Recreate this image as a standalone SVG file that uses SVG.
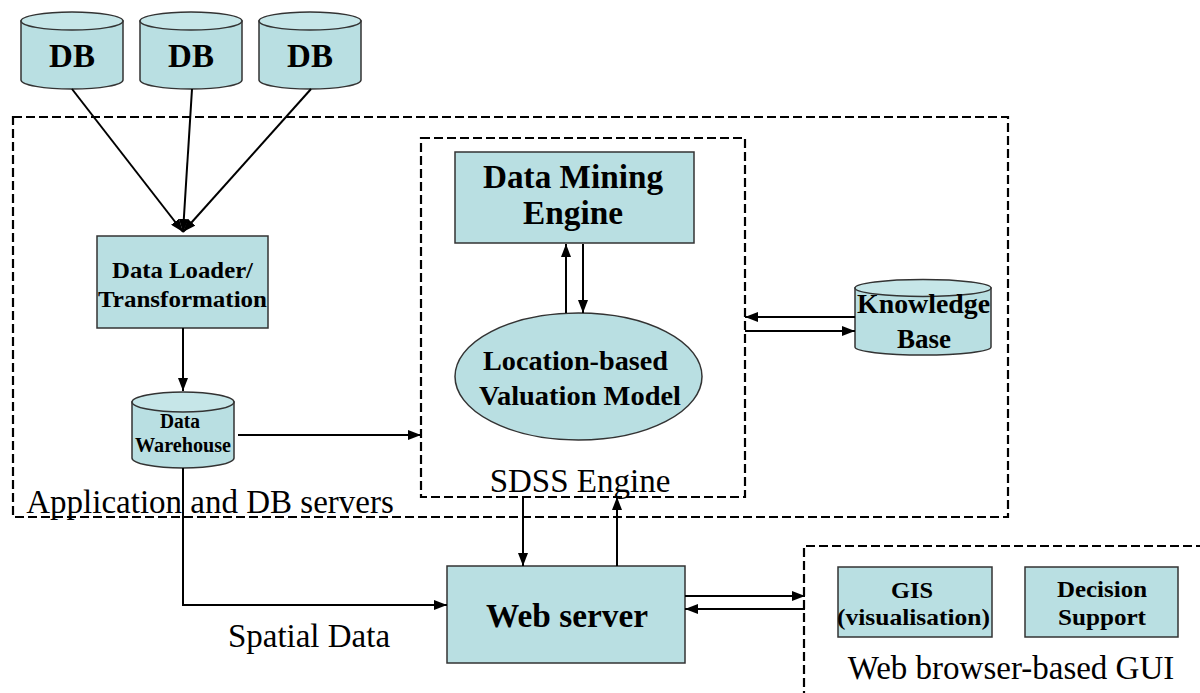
<svg xmlns="http://www.w3.org/2000/svg" width="1200" height="693" viewBox="0 0 1200 693">
<style>
.fill{fill:#b9dfe2;stroke:#333;stroke-width:1.5}
.top{fill:#c6e6e8;stroke:#333;stroke-width:1.5}
.dash{fill:none;stroke:#000;stroke-width:2.2;stroke-dasharray:9 4}
.ln{fill:none;stroke:#000;stroke-width:2}
.b{font-family:"Liberation Serif","Times New Roman",serif;font-weight:bold;fill:#000;text-anchor:middle}
.r{font-family:"Liberation Serif","Times New Roman",serif;fill:#000;text-anchor:middle;font-size:33px}
</style>
<defs>
<marker id="ah" markerUnits="userSpaceOnUse" markerWidth="13" markerHeight="10" refX="13" refY="5" orient="auto">
<path d="M0,0 L13,5 L0,10 z" fill="#000"/>
</marker>
</defs>
<rect width="1200" height="693" fill="#fff"/>

<g id="containers">
<rect class="dash" x="13" y="117" width="995" height="400"/>
<rect class="dash" x="421" y="138" width="324" height="359"/>
<path class="dash" d="M804,700 L804,546 L1205,546"/>
<text class="r" x="210" y="513">Application and DB servers</text>
<text class="r" x="580" y="492">SDSS Engine</text>
<text class="r" x="1011" y="679">Web browser-based GUI</text>
</g>

<g id="db1">
<path class="fill" d="M21,21 L21,80 A51,9 0 0 0 123,80 L123,21 z"/>
<ellipse class="top" cx="72" cy="21" rx="51" ry="9"/>
<text class="b" x="72" y="67" font-size="33">DB</text>
</g>
<g id="db2">
<path class="fill" d="M140,21 L140,80 A51,9 0 0 0 242,80 L242,21 z"/>
<ellipse class="top" cx="191" cy="21" rx="51" ry="9"/>
<text class="b" x="191" y="67" font-size="33">DB</text>
</g>
<g id="db3">
<path class="fill" d="M259,21 L259,80 A51,9 0 0 0 361,80 L361,21 z"/>
<ellipse class="top" cx="310" cy="21" rx="51" ry="9"/>
<text class="b" x="310" y="67" font-size="33">DB</text>
</g>

<g id="loader">
<rect class="fill" x="97" y="236" width="171" height="92"/>
<text class="b" x="182.5" y="278" font-size="24" textLength="141" lengthAdjust="spacingAndGlyphs">Data Loader/</text>
<text class="b" x="182.5" y="307" font-size="24" textLength="169" lengthAdjust="spacingAndGlyphs">Transformation</text>
</g>

<g id="warehouse">
<path class="fill" d="M132,402 L132,458 A51,10 0 0 0 234,458 L234,402 z"/>
<ellipse class="top" cx="183" cy="402" rx="51" ry="10"/>
<text class="b" x="180" y="428" font-size="20" textLength="40" lengthAdjust="spacingAndGlyphs">Data</text>
<text class="b" x="183" y="452" font-size="20" textLength="96" lengthAdjust="spacingAndGlyphs">Warehouse</text>
</g>

<g id="dme">
<rect class="fill" x="455" y="152" width="239" height="91"/>
<text class="b" x="573" y="188" font-size="33" textLength="180" lengthAdjust="spacingAndGlyphs">Data Mining</text>
<text class="b" x="573" y="224" font-size="33" textLength="100" lengthAdjust="spacingAndGlyphs">Engine</text>
</g>

<g id="model">
<ellipse class="fill" cx="578.5" cy="376.5" rx="123.5" ry="63.5"/>
<text class="b" x="575.5" y="370" font-size="28" textLength="185" lengthAdjust="spacingAndGlyphs">Location-based</text>
<text class="b" x="580" y="405" font-size="28" textLength="202" lengthAdjust="spacingAndGlyphs">Valuation Model</text>
</g>

<g id="kb">
<path class="fill" d="M855,288 L855,347 A68,8 0 0 0 991,347 L991,288 z"/>
<ellipse class="top" cx="923" cy="288" rx="68" ry="8.5"/>
<text class="b" x="923.5" y="313" font-size="28" textLength="133" lengthAdjust="spacingAndGlyphs">Knowledge</text>
<text class="b" x="924" y="348" font-size="28" textLength="54" lengthAdjust="spacingAndGlyphs">Base</text>
</g>

<g id="webserver">
<rect class="fill" x="447" y="566" width="238" height="97"/>
<text class="b" x="567" y="627" font-size="33" textLength="162" lengthAdjust="spacingAndGlyphs">Web server</text>
</g>

<g id="gis">
<rect class="fill" x="838" y="567" width="154" height="70"/>
<text class="b" x="912" y="598" font-size="24" textLength="42" lengthAdjust="spacingAndGlyphs">GIS</text>
<text class="b" x="913.5" y="625" font-size="24" textLength="153" lengthAdjust="spacingAndGlyphs">(visualisation)</text>
</g>

<g id="decision">
<rect class="fill" x="1025" y="567" width="153" height="70"/>
<text class="b" x="1102" y="597" font-size="24" textLength="90" lengthAdjust="spacingAndGlyphs">Decision</text>
<text class="b" x="1102" y="625" font-size="24" textLength="88" lengthAdjust="spacingAndGlyphs">Support</text>
</g>

<g id="connectors">
<line class="ln" x1="72" y1="89" x2="183" y2="232" marker-end="url(#ah)"/>
<line class="ln" x1="192" y1="89" x2="183" y2="232" marker-end="url(#ah)"/>
<line class="ln" x1="311" y1="89" x2="183" y2="232" marker-end="url(#ah)"/>
<line class="ln" x1="183" y1="328" x2="183" y2="391" marker-end="url(#ah)"/>
<line class="ln" x1="238" y1="435" x2="421" y2="435" marker-end="url(#ah)"/>
<line class="ln" x1="566" y1="313" x2="566" y2="244" marker-end="url(#ah)"/>
<line class="ln" x1="583" y1="244" x2="583" y2="313" marker-end="url(#ah)"/>
<line class="ln" x1="855" y1="317" x2="745" y2="317" marker-end="url(#ah)"/>
<line class="ln" x1="745" y1="331" x2="855" y2="331" marker-end="url(#ah)"/>
<polyline class="ln" points="183,468 183,605 447,605" marker-end="url(#ah)"/>
<line class="ln" x1="523" y1="497" x2="523" y2="566" marker-end="url(#ah)"/>
<line class="ln" x1="617" y1="566" x2="617" y2="497" marker-end="url(#ah)"/>
<line class="ln" x1="685" y1="596" x2="805" y2="596" marker-end="url(#ah)"/>
<line class="ln" x1="805" y1="609" x2="685" y2="609" marker-end="url(#ah)"/>
<text class="r" x="309" y="647">Spatial Data</text>
</g>
</svg>
